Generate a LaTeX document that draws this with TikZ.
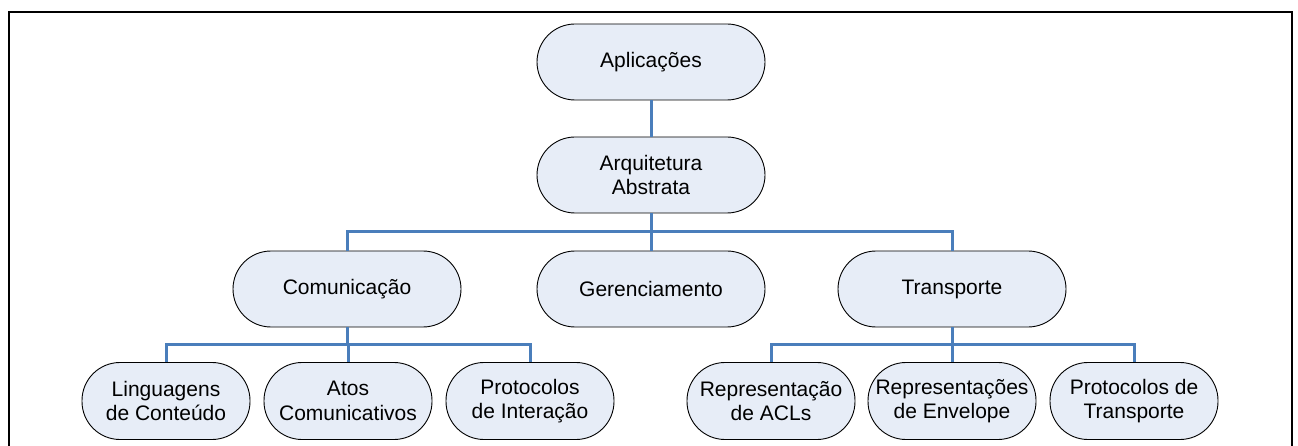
\documentclass[tikz,border=0pt]{standalone}
\usepackage{fontspec}
\setmainfont{Liberation Sans}
\definecolor{boxfill}{HTML}{E7EDF7}
\definecolor{linkblue}{HTML}{4A7EBB}
\tikzset{
  pill/.style={draw=black, line width=0.9pt, fill=boxfill, rounded corners=38pt,
    minimum width=228pt, minimum height=76pt, inner sep=0pt, align=center,
    font=\fontsize{21pt}{24.5pt}\selectfont},
  smallpill/.style={pill, minimum width=168pt, minimum height=77pt},
  link/.style={draw=linkblue, line width=3pt},
  frame/.style={draw=black, line width=2.6pt}
}
\begin{document}
\begin{tikzpicture}[x=1pt,y=-1pt]
\useasboundingbox (0,0) rectangle (1298,446);
\clip (0,0) rectangle (1298,446);
\draw[frame] (9,470) -- (9,12) -- (1292,12) -- (1292,470);

\node[pill] (apl) at (651,62) {Aplicações};
\node[pill] (arq) at (651,175) {Arquitetura\\Abstrata};
\node[pill] (com) at (347,289) {Comunicação};
\node[pill] (ger) at (651,289) {Gerenciamento};
\node[pill] (tra) at (952,289) {Transporte};

\node[smallpill] (lin) at (166,401) {Linguagens\\de Conteúdo};
\node[smallpill] (ato) at (348,401) {Atos\\Comunicativos};
\node[smallpill] (pin) at (530,401) {Protocolos\\de Interação};
\node[smallpill] (rep) at (771,401) {Representação\\de ACLs};
\node[smallpill] (env) at (952,401) {Representações\\de Envelope};
\node[smallpill] (ptr) at (1134,401) {Protocolos de\\Transporte};

\coordinate (bus1) at (651,232);
\coordinate (bus2) at (347,344);
\coordinate (bus3) at (952,344);

\draw[link] (apl.south) -- (arq.north);
\draw[link] (arq.south) -- (ger.north);
\draw[link] (com.north) |- (bus1) -| (tra.north);

\draw[link] (com.south) -- (bus2);
\draw[link] (lin.north) |- (bus2) -| (pin.north);
\draw[link] (ato.north |- bus2) -- (ato.north);

\draw[link] (tra.south) -- (bus3);
\draw[link] (rep.north) |- (bus3) -| (ptr.north);
\draw[link] (bus3) -- (env.north);
\end{tikzpicture}
\end{document}
